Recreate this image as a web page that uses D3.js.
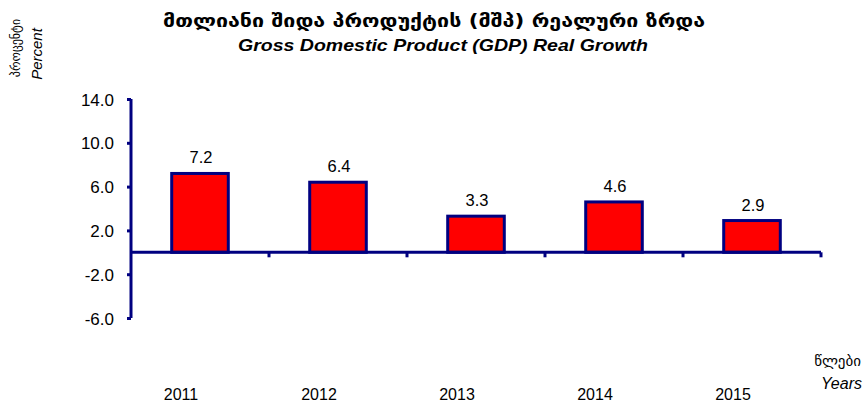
<!DOCTYPE html>
<html>
<head>
<meta charset="utf-8">
<script src="https://cdn.jsdelivr.net/npm/d3@7"></script>
<style>
  body { margin: 0; background: #fff; }
  text { font-family: "Liberation Sans", Arial, sans-serif; fill: #000; }
  .geo { font-family: "DejaVu Sans", sans-serif; }
</style>
</head>
<body>
<div id="chart"></div>
<script>
(function() {

  var years = ['2011', '2012', '2013', '2014', '2015']
  var growth = [7.2, 6.4, 3.3, 4.6, 2.9]
  var yTicks = [-6, -2, 2, 6, 10, 14]

  var width = 865, height = 405
  var navy = '#000080'

  var svg = d3.select("#chart")
    .append("svg")
    .attr("width", width)
    .attr("height", height)

  var xScale = d3.scaleBand()
    .domain(years)
    .range([131, 821])
    .paddingInner(0.59)
    .paddingOuter(0.295)

  var yScale = d3.scaleLinear()
    .domain([-6, 14])
    .range([318, 99])

  // y axis
  var yAxis = svg.append("g")
    .attr("transform", "translate(131,0)")
    .call(d3.axisLeft(yScale)
      .tickValues(yTicks)
      .tickSize(4)
      .tickFormat(function(d) { return d.toFixed(1) }))
  yAxis.select(".domain").attr("stroke", navy).attr("stroke-width", 3)
    .attr("d", "M0," + yScale(14) + "V" + yScale(-6))
  yAxis.selectAll(".tick line").attr("stroke", navy).attr("stroke-width", 3)
  yAxis.selectAll(".tick text")
    .attr("x", -17)
    .attr("dy", "0.36em")
    .attr("font-size", "17px")
    .attr("font-family", "Liberation Sans, Arial, sans-serif")
    .attr("fill", "#000")

  // bars
  svg.selectAll(".bar")
    .data(growth)
    .enter().append("rect")
    .attr("class", "bar")
    .attr("x", function(d, i) { return xScale(years[i]) })
    .attr("width", xScale.bandwidth())
    .attr("y", function(d) { return yScale(d) })
    .attr("height", function(d) { return yScale(0) - yScale(d) })
    .attr("fill", "#ff0000")
    .attr("stroke", navy)
    .attr("stroke-width", 3)

  // value labels
  svg.selectAll(".val")
    .data(growth)
    .enter().append("text")
    .attr("class", "val")
    .attr("x", function(d, i) { return xScale(years[i]) + xScale.bandwidth() / 2 + 1 })
    .attr("y", function(d) { return yScale(d) - 10 })
    .attr("text-anchor", "middle")
    .attr("font-size", "16.5px")
    .text(function(d) { return d.toFixed(1) })

  // x axis on zero line
  var step = xScale.step()
  var xAxis = svg.append("g")
    .attr("transform", "translate(0," + yScale(0) + ")")
  xAxis.append("line")
    .attr("x1", 131).attr("x2", 821)
    .attr("stroke", navy).attr("stroke-width", 3)
  xAxis.selectAll(".xtick")
    .data(years)
    .enter().append("line")
    .attr("x1", function(d, i) { return 131 + step * (i + 1) })
    .attr("x2", function(d, i) { return 131 + step * (i + 1) })
    .attr("y1", 0).attr("y2", 5)
    .attr("stroke", navy).attr("stroke-width", 3)

  // year labels at bottom
  svg.selectAll(".year")
    .data(years)
    .enter().append("text")
    .attr("class", "year")
    .attr("x", function(d) { return xScale(d) + xScale.bandwidth() / 2 - 19 })
    .attr("y", 400)
    .attr("text-anchor", "middle")
    .attr("font-size", "16px")
    .text(function(d) { return d })

  // titles
  svg.append("text")
    .attr("class", "geo")
    .attr("x", 434)
    .attr("y", 27)
    .attr("text-anchor", "middle")
    .attr("font-size", "18px")
    .attr("font-weight", "bold")
    .attr("textLength", 542)
    .attr("lengthAdjust", "spacingAndGlyphs")
    .text("მთლიანი შიდა პროდუქტის (მშპ) რეალური ზრდა")
  svg.append("text")
    .attr("x", 443)
    .attr("y", 51)
    .attr("text-anchor", "middle")
    .attr("font-size", "17px")
    .attr("font-weight", "bold")
    .attr("font-style", "italic")
    .attr("textLength", 410)
    .attr("lengthAdjust", "spacingAndGlyphs")
    .text("Gross Domestic Product (GDP) Real Growth")

  // y axis title (rotated)
  svg.append("text")
    .attr("class", "geo")
    .attr("transform", "translate(20,48) rotate(-90)")
    .attr("text-anchor", "middle")
    .attr("font-size", "12px")
    .text("პროცენტი")
  svg.append("text")
    .attr("transform", "translate(42,54) rotate(-90)")
    .attr("text-anchor", "middle")
    .attr("font-size", "15px")
    .attr("font-style", "italic")
    .text("Percent")

  // x axis title
  svg.append("text")
    .attr("class", "geo")
    .attr("x", 861)
    .attr("y", 366)
    .attr("text-anchor", "end")
    .attr("font-size", "15px")
    .text("წლები")
  svg.append("text")
    .attr("x", 862)
    .attr("y", 389)
    .attr("text-anchor", "end")
    .attr("font-size", "16px")
    .attr("font-style", "italic")
    .text("Years")

})();
</script>
</body>
</html>
